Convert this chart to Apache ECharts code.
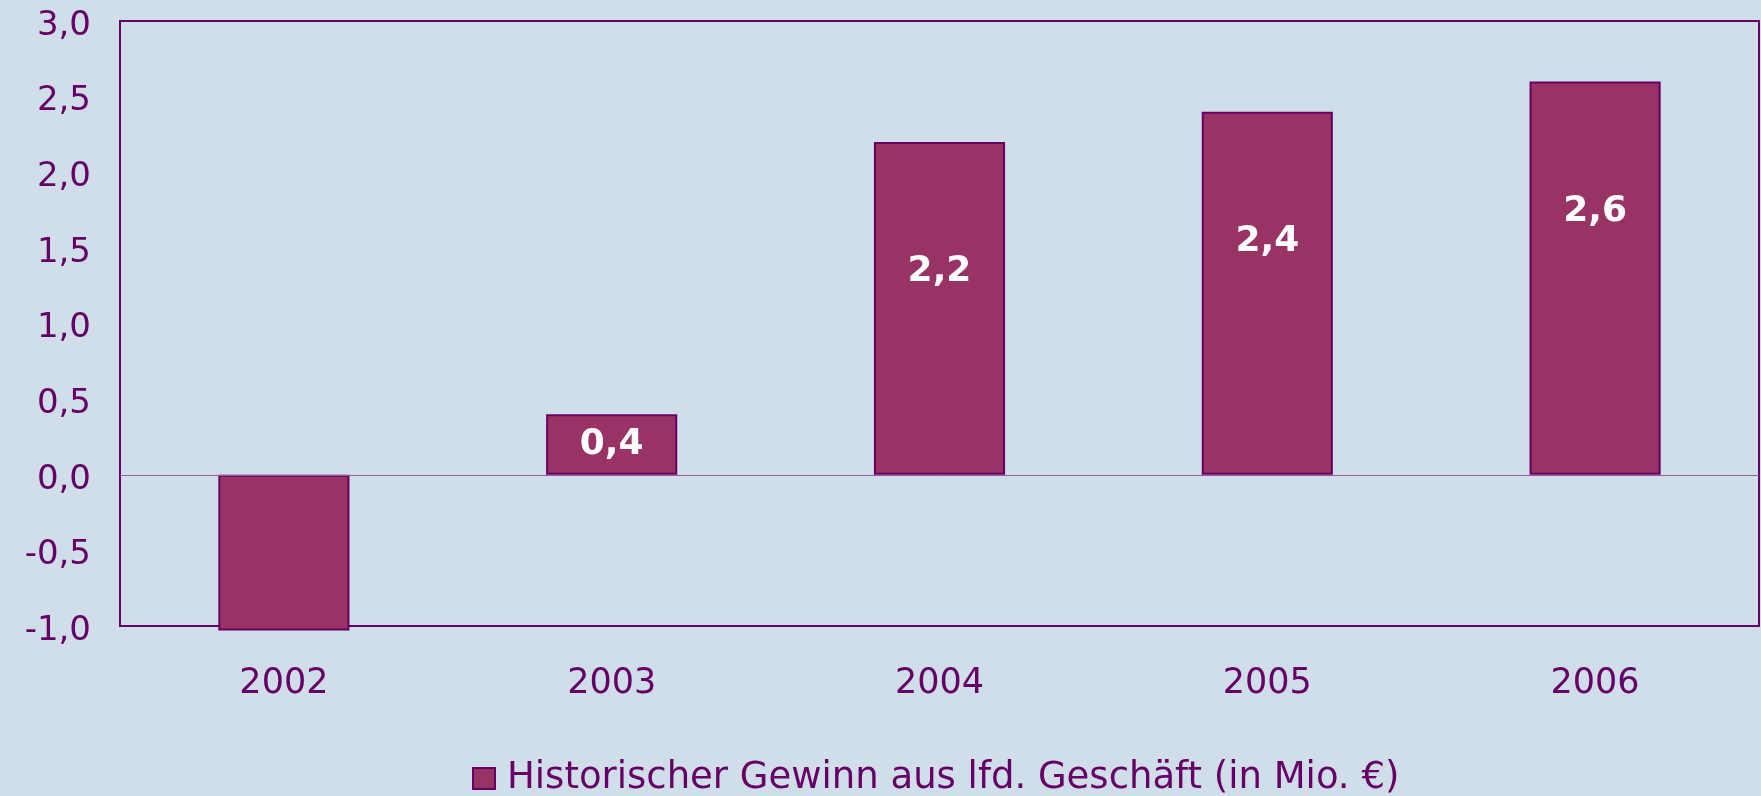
<!DOCTYPE html>
<html>
<head>
<meta charset="utf-8">
<script src="https://cdn.jsdelivr.net/npm/echarts@6/dist/echarts.min.js"></script>
<style>
  html, body { margin: 0; padding: 0; background: #d0deea; }
  #chart { width: 1761px; height: 796px; }
</style>
</head>
<body>
<div id="chart"></div>
<script>

// Daten
let years = ['2002', '2003', '2004', '2005', '2006'];
let gewinn = [-1.03, 0.4, 2.2, 2.4, 2.6];
let seriesName = 'Historischer Gewinn aus lfd. Geschäft (in Mio. €)';
let yTicks = [-1.0, -0.5, 0.0, 0.5, 1.0, 1.5, 2.0, 2.5, 3.0];

let purple = '#660066';

function fmt(v){
    return v.toFixed(1).replace('.', ',');
}

// label nur bei positiven Werten, kleine Balken mittig
let barData = [];
for (let x = 0; x < gewinn.length; x++){
    let v = gewinn[x];
    let item = { value: v };
    if (v < 0){
        item.label = { show: false };
    } else if (v < 1){
        item.label = { position: 'inside' };
    }
    barData.push(item);
}

let myChart = echarts.init(document.getElementById('chart'));

let option = {
    backgroundColor: '#d0deea',
    animation: false,
    textStyle: { fontFamily: 'DejaVu Sans' },
    grid: {
        left: 120,
        right: 2,
        top: 21,
        bottom: 170,
        show: true,
        backgroundColor: 'transparent',
        borderColor: purple,
        borderWidth: 2
    },
    legend: {
        top: 755,
        left: 467,
        itemWidth: 22,
        itemHeight: 21,
        icon: 'rect',
        itemGap: 10,
        data: [seriesName],
        textStyle: {
            color: purple,
            fontSize: 37,
            fontFamily: 'DejaVu Sans',
            padding: [0, 0, 0, 7]
        },
        itemStyle: { borderColor: purple, borderWidth: 2 }
    },
    xAxis: {
        type: 'category',
        data: years,
        axisLine: { show: false },
        axisTick: { show: false },
        axisLabel: {
            color: purple,
            fontSize: 35,
            margin: 40
        }
    },
    yAxis: {
        type: 'value',
        min: yTicks[0],
        max: yTicks[yTicks.length - 1],
        interval: 0.5,
        axisLine: { show: false },
        axisTick: { show: false },
        splitLine: { show: false },
        axisLabel: {
            color: purple,
            fontSize: 34,
            margin: 29,
            formatter: function (v) { return '{t|' + fmt(v) + '}'; },
            rich: {
                t: {
                    color: purple,
                    fontSize: 34,
                    fontFamily: 'DejaVu Sans',
                    padding: [10, 0, 0, 0]
                }
            }
        }
    },
    series: [
        {
            name: seriesName,
            type: 'bar',
            barWidth: '40%',
            clip: false,
            itemStyle: {
                color: '#993366',
                borderColor: purple,
                borderWidth: 2
            },
            label: {
                show: true,
                position: 'insideTop',
                distance: 112,
                color: '#ffffff',
                fontWeight: 'bold',
                fontSize: 36,
                formatter: function (p) { return fmt(p.value); }
            },
            markLine: {
                silent: true,
                symbol: 'none',
                label: { show: false },
                lineStyle: { color: '#9a5a9a', width: 1, type: 'solid' },
                data: [{ yAxis: 0 }]
            },
            data: barData
        }
    ]
};

myChart.setOption(option);
</script>
</body>
</html>
